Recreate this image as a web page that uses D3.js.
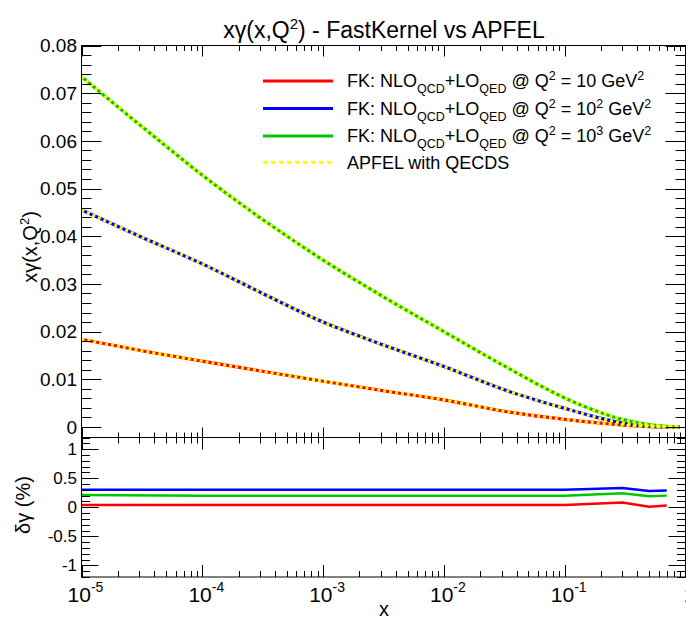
<!DOCTYPE html>
<html><head><meta charset="utf-8">
<script src="https://cdn.jsdelivr.net/npm/d3@7"></script>
<style>
body{margin:0;background:#fff;}
svg{display:block;font-family:"Liberation Sans",Arial,Helvetica,sans-serif;}
</style></head>
<body>
<svg id="c" width="686" height="619"></svg>
<script>
// ---- data ----
const xGrid = [1e-5, 3.16e-5, 1e-4, 3.16e-4, 1e-3, 3.16e-3, 1e-2, 3.16e-2, 0.1, 0.2, 0.3, 0.5, 0.7, 0.9];
const fkQ10   = [0.0184, 0.0160, 0.0138, 0.0117, 0.0096, 0.0076, 0.0057, 0.0033, 0.0016, 0.0008, 0.0004, 0.0001, 0.00002, 0.0];
const fkQ100  = [0.0455, 0.0398, 0.0342, 0.0280, 0.0220, 0.0172, 0.0127, 0.0078, 0.0039, 0.0018, 0.0008, 0.0002, 0.00004, 0.0];
const fkQ1000 = [0.0735, 0.0630, 0.0528, 0.0435, 0.0350, 0.0273, 0.0200, 0.0128, 0.0061, 0.0030, 0.0016, 0.0005, 0.00012, 0.0];
const apfelQ10   = fkQ10.slice();
const apfelQ100  = fkQ100.slice();
const apfelQ1000 = fkQ1000.slice();

const xRatio = [1e-5, 1e-4, 1e-3, 1e-2, 0.1, 0.3, 0.5, 0.7];
const dQ10   = [0.04, 0.04, 0.04, 0.04, 0.04, 0.08, 0.01, 0.03];
const dQ100  = [0.30, 0.30, 0.30, 0.30, 0.30, 0.33, 0.28, 0.29];
const dQ1000 = [0.21, 0.20, 0.20, 0.20, 0.20, 0.24, 0.19, 0.20];

const upperYTicks = [0, 0.01, 0.02, 0.03, 0.04, 0.05, 0.06, 0.07, 0.08];
const upperYLabels = ["0", "0.01", "0.02", "0.03", "0.04", "0.05", "0.06", "0.07", "0.08"];
const lowerYTicks = [-1, -0.5, 0, 0.5, 1];
const lowerYLabels = ["-1", "-0.5", "0", "0.5", "1"];
const xDecades = [-5, -4, -3, -2, -1, 0];

const seriesColors = ["#ff0000", "#0000ff", "#00c800"];
const legendLabels = [
  {q: "10", qs: null},
  {q: "10", qs: "2"},
  {q: "10", qs: "3"}
];

// ---- layout ----
const L = 81.5, R = 685.5;
const uTop = 45.5, uBot = 437.5, lTop = 437.5, lBot = 577;

const svg = d3.select("#c");
const x = d3.scaleLog().domain([1e-5, 1]).range([L, R]);
const yU = d3.scaleLinear().domain([-0.0022, 0.08]).range([uBot, uTop]);
const yL = d3.scaleLinear().domain([-1.2, 1.2]).range([lBot, lTop]);

const defs = svg.append("defs");
defs.append("clipPath").attr("id","cu").append("rect").attr("x",L).attr("y",uTop).attr("width",R-L).attr("height",uBot-uTop);
defs.append("clipPath").attr("id","cl").append("rect").attr("x",L).attr("y",lTop).attr("width",R-L).attr("height",lBot-lTop);

// ---- curves upper ----
const lineU = d3.line().x((d,i)=>x(xGrid[i])).y(d=>yU(d)).curve(d3.curveMonotoneX);
const gU = svg.append("g").attr("clip-path","url(#cu)");
[fkQ10, fkQ100, fkQ1000].forEach((s,k)=>{
  gU.append("path").attr("d", lineU(s)).attr("fill","none").attr("stroke",seriesColors[k]).attr("stroke-width",3.2);
});
[apfelQ10, apfelQ100, apfelQ1000].forEach(s=>{
  gU.append("path").attr("d", lineU(s)).attr("fill","none").attr("stroke","#ffff00").attr("stroke-width",3.2).attr("stroke-dasharray","3,3");
});

// ---- ratio lower ----
const lineL = d3.line().x((d,i)=>x(xRatio[i])).y(d=>yL(d));
const gL = svg.append("g").attr("clip-path","url(#cl)");
[dQ10, dQ100, dQ1000].forEach((s,k)=>{
  gL.append("path").attr("d", lineL(s)).attr("fill","none").attr("stroke",seriesColors[k]).attr("stroke-width",2.5);
});

// ---- frames ----
const frame = (t,b)=>svg.append("rect").attr("x",L).attr("y",t).attr("width",R-L).attr("height",b-t).attr("fill","none").attr("stroke","#000").attr("stroke-width",1);
frame(uTop,uBot); frame(lTop,lBot);

// ---- ticks ----
const tk = svg.append("g").attr("stroke","#000").attr("stroke-width",1);
function hline(x1,x2,yy){tk.append("line").attr("x1",x1).attr("x2",x2).attr("y1",yy).attr("y2",yy);}
function vline(xx,y1,y2){tk.append("line").attr("x1",xx).attr("x2",xx).attr("y1",y1).attr("y2",y2);}

const xMaj = xDecades.map(d=>Math.pow(10,d));
const xMin = [];
xDecades.slice(0,-1).forEach(d=>{for(let k=2;k<=9;k++) xMin.push(k*Math.pow(10,d));});
xMaj.forEach(v=>{
  const px = Math.round(x(v))+0.5;
  vline(px, uTop, uTop+11);
  vline(px, uBot, uBot-10);
  vline(px, lTop, lTop+12);
  vline(px, lBot, lBot-12);
});
xMin.forEach(v=>{
  const px = Math.round(x(v))+0.5;
  vline(px, uTop, uTop+5.5);
  vline(px, uBot, uBot-5);
  vline(px, lTop, lTop+6);
  vline(px, lBot, lBot-6);
});
for(let i=-1;i<=40;i++){
  const v = i*0.002; if(v<yU.domain()[0]||v>0.0801) continue;
  const py = Math.round(yU(v))+0.5;
  const major = (i%5===0);
  const len = major?20:10;
  hline(L, L+len, py); hline(R, R-len, py);
}
for(let i=-12;i<=12;i++){
  const v = i*0.1;
  const py = Math.round(yL(v))+0.5;
  const major = (i%5===0);
  const len = major?17:8.5;
  hline(L, L+len, py); hline(R, R-len, py);
}

// ---- labels ----
const txt = svg.append("g").attr("fill","#000");
upperYTicks.forEach((v,i)=>{
  txt.append("text").attr("x",77).attr("y",yU(v)).attr("dy","0.36em").attr("text-anchor","end").attr("font-size",19).text(upperYLabels[i]);
});
lowerYTicks.forEach((v,i)=>{
  txt.append("text").attr("x",77).attr("y",yL(v)).attr("dy","0.36em").attr("text-anchor","end").attr("font-size",17).text(lowerYLabels[i]);
});
xDecades.forEach(d=>{
  const t = txt.append("text").attr("x",x(Math.pow(10,d))+4).attr("y",602).attr("text-anchor","middle").attr("font-size",21);
  if(d===0){ t.text("1"); }
  else { t.append("tspan").text("10"); t.append("tspan").attr("font-size",14).attr("dy",-10).text(String(d)); }
});

txt.append("text").attr("x",384).attr("y",616).attr("text-anchor","middle").attr("font-size",20).text("x");
const yt = txt.append("text").attr("transform","translate(37,247) rotate(-90)").attr("text-anchor","middle").attr("font-size",20);
yt.append("tspan").text("xγ(x,Q");
yt.append("tspan").attr("font-size",13).attr("dy",-8).text("2");
yt.append("tspan").attr("dy",8).text(")");
txt.append("text").attr("transform","translate(30,505) rotate(-90)").attr("text-anchor","middle").attr("font-size",20).text("δγ (%)");

// title
const tt = txt.append("text").attr("x",384).attr("y",38).attr("text-anchor","middle").attr("font-size",23);
tt.append("tspan").text("xγ(x,Q");
tt.append("tspan").attr("font-size",15).attr("dy",-9).text("2");
tt.append("tspan").attr("dy",9).text(") - FastKernel vs APFEL");

// ---- legend ----
const legY = [81, 108.5, 136, 162.5];
const lg = svg.append("g");
seriesColors.forEach((c,k)=>{
  lg.append("line").attr("x1",263).attr("x2",333).attr("y1",legY[k]).attr("y2",legY[k]).attr("stroke",c).attr("stroke-width",3.2);
  const t = lg.append("text").attr("x",347).attr("y",legY[k]+6).attr("font-size",18);
  t.append("tspan").text("FK: NLO");
  t.append("tspan").attr("font-size",12.5).attr("dy",6).text("QCD");
  t.append("tspan").attr("dy",-6).text("+LO");
  t.append("tspan").attr("font-size",12.5).attr("dy",6).text("QED");
  t.append("tspan").attr("dy",-6).text(" @ Q");
  t.append("tspan").attr("font-size",12.5).attr("dy",-7).text("2");
  t.append("tspan").attr("dy",7).text(" = " + legendLabels[k].q);
  if(legendLabels[k].qs){
    t.append("tspan").attr("font-size",12.5).attr("dy",-7).text(legendLabels[k].qs);
    t.append("tspan").attr("dy",7).text(" GeV");
  } else {
    t.append("tspan").text(" GeV");
  }
  t.append("tspan").attr("font-size",12.5).attr("dy",-7).text("2");
});
lg.append("line").attr("x1",263).attr("x2",333).attr("y1",legY[3]).attr("y2",legY[3]).attr("stroke","#ffff00").attr("stroke-width",3).attr("stroke-dasharray","4,4");
lg.append("text").attr("x",347).attr("y",legY[3]+6).attr("font-size",18).text("APFEL with QECDS");
</script>
</body></html>
